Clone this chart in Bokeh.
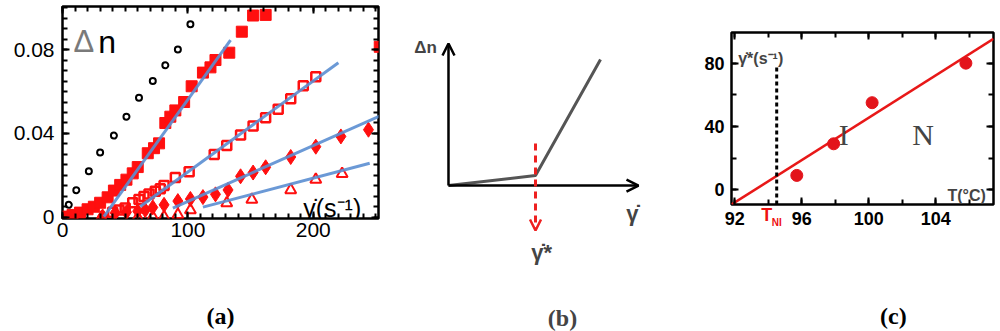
from bokeh.plotting import figure
from bokeh.layouts import row, column
from bokeh.models import (Range1d, LinearAxis, Label, Arrow, OpenHead, FixedTicker,
                          CustomJSTickFormatter)
from bokeh.embed import file_html
from bokeh.resources import INLINE

RED = "#ff0f0f"
BLUE = "#5b8ed2"

# ---------------- Panel (a) data ----------------
circ_x = [1, 5, 11, 21, 30, 41, 51, 61, 72, 82, 92, 102]
circ_y = [0.0007, 0.006, 0.013, 0.022, 0.031, 0.039, 0.048, 0.057, 0.065, 0.0725, 0.080, 0.092]

sq_x = [1, 8, 14, 20, 25, 30, 36, 41, 46, 51, 56, 60, 68, 73, 77, 82, 86, 90, 97, 103,
        112, 118, 122, 133, 143, 152, 162, 253]
sq_y = [0.0004, 0.0012, 0.0023, 0.0039, 0.0051, 0.007, 0.0096, 0.0128, 0.0155, 0.018,
        0.021, 0.024, 0.0306, 0.033, 0.0353, 0.045, 0.048, 0.051, 0.055, 0.0625,
        0.069, 0.0715, 0.075, 0.0785, 0.0885, 0.0962, 0.0965, 0.0813]

osq_x = [40, 45, 50, 56, 61, 65, 69, 74, 78, 81, 90, 101, 121, 131, 142, 152, 162, 172, 182, 192, 202]
osq_y = [0.0025, 0.0035, 0.0045, 0.007, 0.0085, 0.0100, 0.0112, 0.0125, 0.0137, 0.0152,
         0.019, 0.0218, 0.030, 0.0343, 0.0393, 0.0436, 0.0475, 0.0515, 0.0565, 0.0627, 0.067]

dia_x = [32, 42, 51, 60, 66, 72, 81, 92, 102, 112, 122, 132, 142, 152, 162, 182, 202, 222, 244]
dia_y = [0.0005, 0.0022, 0.0025, 0.0030, 0.0035, 0.0048, 0.006, 0.0078, 0.0088, 0.0097,
         0.0110, 0.0131, 0.0196, 0.0214, 0.0239, 0.0288, 0.0337, 0.0386, 0.0418]

tri_x = [31, 60, 72, 81, 92, 102, 131, 151, 182, 202, 223]
tri_y = [0.0, 0.0, 0.0003, 0.0003, 0.0013, 0.0035, 0.0068, 0.0085, 0.0131, 0.018, 0.0208]

fit1_x, fit1_y = [33, 134], [0.0004, 0.0845]
fit2_x, fit2_y = [62, 220], [0.0052, 0.0737]
fit3_x, fit3_y = [88, 255], [0.0045, 0.0488]
fit4_x, fit4_y = [112, 245], [0.0049, 0.0258]

a_xticks = [0, 100, 200]
a_xlabels = ["0", "100", "200"]
a_xminor = list(range(0, 260, 10))
a_yticks = [0, 0.04, 0.08]
a_ylabels = ["0", "0.04", "0.08"]
a_yminor = [i * 0.005 for i in range(0, 21)]

# ---------------- Panel (b) schematic ----------------
sch_x = [0, 0.458, 0.8]
sch_y = [0, 0.07, 0.887]
gstar = 0.458

# ---------------- Panel (c) data ----------------
c_T = [95.7, 97.9, 100.2, 105.8]
c_g = [9, 29, 55, 80]
cfit_T = [91.8, 107.45]
cfit_g = [-9.4, 95.4]
T_NI = 94.5
c_xticks = [92, 96, 100, 104]
c_xlabels = ["92", "96", "100", "104"]
c_xminor = list(range(92, 108, 2))
c_yticks = [0, 40, 80]
c_ylabels = ["0", "40", "80"]
c_yminor = [0, 20, 40, 60, 80]


def fmt(ticks, labels):
    return CustomJSTickFormatter(args=dict(t=ticks, l=labels), code="""
        for (let i = 0; i < t.length; i++) { if (Math.abs(t[i] - tick) < 1e-9) return l[i]; }
        return '';""")


BLANK = CustomJSTickFormatter(code="return '';")


def style_box(p, xt, xl, xm, yt, yl, ym, font, size, weight, tick_in, xstand, ystand):
    p.xgrid.visible = False
    p.ygrid.visible = False
    p.outline_line_color = "black"
    p.outline_line_width = 2.5
    xa, ya = p.below[0], p.left[0]
    xa.ticker = FixedTicker(ticks=xt, minor_ticks=xm)
    xa.formatter = fmt(xt, xl)
    xa.major_label_standoff = xstand
    ya.ticker = FixedTicker(ticks=yt, minor_ticks=ym)
    ya.formatter = fmt(yt, yl)
    ya.major_label_standoff = ystand
    top = LinearAxis(ticker=FixedTicker(ticks=xt, minor_ticks=xm), formatter=BLANK,
                     major_label_standoff=0)
    right = LinearAxis(ticker=FixedTicker(ticks=yt, minor_ticks=ym), formatter=BLANK,
                       major_label_standoff=0)
    p.add_layout(top, "above")
    p.add_layout(right, "right")
    for ax in [xa, ya, top, right]:
        ax.axis_line_color = None
        ax.major_tick_in = tick_in
        ax.major_tick_out = 0
        ax.minor_tick_in = tick_in - 2
        ax.minor_tick_out = 0
        ax.major_tick_line_width = 2
        ax.minor_tick_line_width = 2
        ax.major_tick_line_color = "black"
        ax.minor_tick_line_color = "black"
    for ax in [xa, ya]:
        ax.major_label_text_font = font
        ax.major_label_text_font_size = size
        ax.major_label_text_font_style = weight
        ax.major_label_text_color = "black"
    return xa


def text_axis(pos, text, standoff, font, size, style, color):
    """A tick-less axis used only to place one text below the frame."""
    return LinearAxis(ticker=FixedTicker(ticks=[pos], minor_ticks=[]), formatter=fmt([pos], [text]),
                      major_label_standoff=standoff, major_label_text_font=font,
                      major_label_text_font_size=size, major_label_text_font_style=style,
                      major_label_text_color=color, axis_line_color=None,
                      major_tick_in=0, major_tick_out=0, minor_tick_in=0, minor_tick_out=0)


CAP_FONT = "Liberation Serif"
CAP_SIZE = "24px"

# ---------------- Figure (a) ----------------
pa = figure(width=400, height=331, x_range=Range1d(0, 252), y_range=Range1d(-0.0005, 0.1005),
            output_backend="svg", toolbar_location=None,
            min_border_left=62, min_border_right=22, min_border_top=6, min_border_bottom=113)
xa_main = style_box(pa, a_xticks, a_xlabels, a_xminor, a_yticks, a_ylabels, a_yminor,
                    "Liberation Sans", "21px", "normal", 7, 4, 8)
xa_main.axis_label = "(a)"
xa_main.axis_label_standoff = 63
xa_main.axis_label_text_font = CAP_FONT
xa_main.axis_label_text_font_size = CAP_SIZE
xa_main.axis_label_text_font_style = "bold"
xa_main.axis_label_text_color = "black"

pa.scatter(circ_x, circ_y, marker="circle", size=6, fill_color=None, line_color="black", line_width=2)
pa.scatter(tri_x, tri_y, marker="triangle", size=11, fill_color=None, line_color=RED, line_width=2)
pa.scatter(dia_x, dia_y, marker="diamond", size=15, fill_color=RED, line_color=RED)
pa.scatter(osq_x, osq_y, marker="square", size=9, fill_color=None, line_color=RED, line_width=2.5)
pa.scatter(sq_x, sq_y, marker="square", size=11, fill_color=RED, line_color=RED)
for fx, fy in [(fit1_x, fit1_y), (fit2_x, fit2_y), (fit3_x, fit3_y), (fit4_x, fit4_y)]:
    pa.line(fx, fy, line_color=BLUE, line_width=3, line_alpha=0.9)

pa.add_layout(Label(x=8.8, y=0.0836, text="Δ", text_font="Liberation Sans", text_font_size="31px",
                    text_color="#7a7a7a", text_baseline="alphabetic"))
pa.add_layout(Label(x=28.5, y=0.0836, text="n", text_font="Liberation Sans", text_font_size="32px",
                    text_color="black", text_baseline="alphabetic"))
pa.add_layout(Label(x=192, y=0.0045, text="γ̇(s⁻¹)", text_font="Liberation Sans", text_font_size="25px",
                    text_color="black", text_baseline="alphabetic"))

# ---------------- Figure (b) ----------------
pb = figure(width=290, height=331, x_range=Range1d(-0.2526, 1.2737), y_range=Range1d(-1.028, 1.303),
            output_backend="svg", toolbar_location=None,
            min_border_left=0, min_border_right=0, min_border_top=0, min_border_bottom=0)
pb.axis.visible = False
pb.xgrid.visible = False
pb.ygrid.visible = False
pb.outline_line_color = None

pb.add_layout(Arrow(end=OpenHead(size=12, line_width=2.5, line_color="black"),
                    x_start=0, y_start=0, x_end=0, y_end=1, line_width=2.5, line_color="black"))
pb.add_layout(Arrow(end=OpenHead(size=12, line_width=2.5, line_color="black"),
                    x_start=0, y_start=0, x_end=1, y_end=0, line_width=2.5, line_color="black"))
pb.line(sch_x, sch_y, line_color="#555555", line_width=3)
pb.add_layout(Arrow(end=OpenHead(size=11, line_width=2.5, line_color="#ee2020"),
                    x_start=gstar, y_start=0.296, x_end=gstar, y_end=-0.317,
                    line_width=3, line_color="#ee2020", line_dash="7 5"))

pb.add_layout(Label(x=-0.121, y=0.972, text="Δn", text_font="Liberation Sans", text_font_size="17px",
                    text_font_style="bold", text_align="center", text_baseline="middle"))
pb.add_layout(Label(x=0.968, y=-0.197, text="γ̇", text_font="Liberation Sans", text_font_size="22px",
                    text_font_style="bold", text_align="center", text_baseline="middle"))
pb.add_layout(Label(x=0.49, y=-0.472, text="γ̇*", text_font="Liberation Sans", text_font_size="22px",
                    text_font_style="bold", text_align="center", text_baseline="middle"))
pb.add_layout(Label(x=0.60, y=-0.93, text="(b)", text_font=CAP_FONT, text_font_size=CAP_SIZE,
                    text_font_style="bold", text_align="center", text_baseline="middle"))

# ---------------- Figure (c) ----------------
pc = figure(width=310, height=331, x_range=Range1d(91.8, 107.45), y_range=Range1d(-9.4, 99.4),
            output_backend="svg", toolbar_location=None,
            min_border_left=41, min_border_right=7, min_border_top=32, min_border_bottom=126)
style_box(pc, c_xticks, c_xlabels, c_xminor, c_yticks, c_ylabels, c_yminor,
          "Liberation Sans", "18px", "bold", 7, 7, 7)

# red T_NI below the axis, then the panel caption
pc.add_layout(text_axis(T_NI - 0.6, "T", -23, "Liberation Sans", "18px", "bold", "#ee1111"), "below")
pc.add_layout(text_axis(T_NI, "NI", -11, "Liberation Sans", "10px", "bold", "#ee1111"), "below")
cap_x = 91.8 + 0.618 * (107.45 - 91.8)
pc.add_layout(text_axis(cap_x, "(c)", 72, CAP_FONT, CAP_SIZE, "bold", "black"), "below")

pc.line(cfit_T, cfit_g, line_color="#e81818", line_width=2.5)
pc.line([T_NI, T_NI], [-9.4, 77.5], line_color="black", line_width=3, line_dash="4 3")
pc.scatter(c_T, c_g, marker="circle", size=12, fill_color="#e3141b", line_color="#e3141b")

pc.add_layout(Label(x=92.2, y=83, text="γ̇*(s⁻¹)", text_font="Liberation Sans", text_font_size="16px",
                    text_font_style="bold", text_baseline="alphabetic"))
pc.add_layout(Label(x=98.2, y=34.6, text="I", text_font="Liberation Serif", text_font_size="30px",
                    text_baseline="alphabetic"))
pc.add_layout(Label(x=102.6, y=34.6, text="N", text_font="Liberation Serif", text_font_size="30px",
                    text_baseline="alphabetic"))
pc.add_layout(Label(x=104.7, y=-3.8, text="T(°C)", text_font="Liberation Sans", text_font_size="16px",
                    text_font_style="bold", text_baseline="alphabetic"))

layout = row(column(pa), column(pb), column(pc), spacing=0)
open("out.html", "w").write(file_html(layout, INLINE))
